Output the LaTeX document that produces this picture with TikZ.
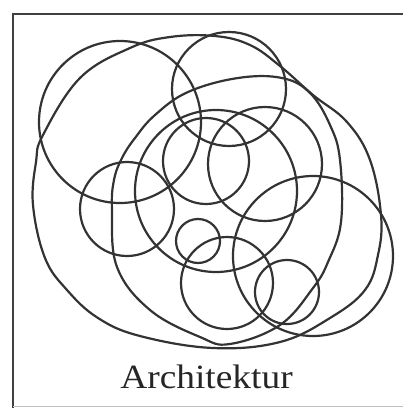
\documentclass[tikz,border=0pt]{standalone}
\usepackage{fontspec}
\setmainfont{Liberation Serif}
\begin{document}
\begin{tikzpicture}[x=1pt,y=-1pt,
  ring/.style={draw=black!80,line width=2.2pt},
  frame/.style={draw=black!75,line width=2.4pt}]
\useasboundingbox (0,0) rectangle (403,408);
% frame
\draw[frame] (13,408) -- (13,14) -- (403,14);
\draw[draw=black!25,line width=1pt] (13,406.5) -- (403,406.5);
% big outer egg
\draw[ring] plot[smooth cycle,tension=0.65] coordinates {
 (33,205) (36,162) (43,135) (80,78) (130,48) (170,37) (215,36) (250,45)
 (280,66) (313,95) (347,122) (370,160) (381,215) (378,255) (365,290)
 (330,318) (280,342) (213,348) (140,336) (98,318) (67,290) (45,258)};
% second big ellipse
\draw[ring] plot[smooth cycle,tension=0.65] coordinates {
 (112,210) (114,180) (122,158) (135,138) (155,115) (188,92) (238,78)
 (282,78) (310,93) (330,125) (340,160) (341,222) (328,262) (313,288)
 (280,325) (230,344) (200,337) (150,310) (117,267)};
% circles
\draw[ring] (120,122) circle[radius=81pt];
\draw[ring] (229,89) circle[radius=57pt];
\draw[ring] (216,191) circle[radius=81pt];
\draw[ring] (265,164) circle[radius=57pt];
\draw[ring] (206,161) circle[radius=43pt];
\draw[ring] (127,209) circle[radius=47pt];
\draw[ring] (198,241) circle[radius=22pt];
\draw[ring] (227,283) circle[radius=46pt];
\draw[ring] (287,292) circle[radius=32pt];
\draw[ring] (313,256) circle[radius=80pt];
% label
\node[anchor=base,inner sep=0pt,font=\fontsize{34}{34}\selectfont,text=black!85,xscale=1.1] (lab) at (206.5,388) {Architektur};
\end{tikzpicture}
\end{document}
